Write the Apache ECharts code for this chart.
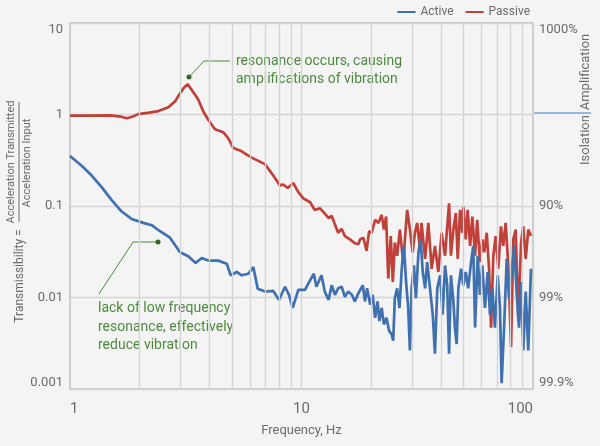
<!DOCTYPE html>
<html>
<head>
<meta charset="utf-8">
<script src="https://cdn.jsdelivr.net/npm/echarts@6/dist/echarts.min.js"></script>
<style>
html,body{margin:0;padding:0;background:#f4f4f4;}
#chart{width:600px;height:446px;}
</style>
</head>
<body>
<div id="chart"></div>
<script>
// frequencies in Hz, transmissibility as ratio
const passiveFreq = [1.0,1.2,1.5,1.65,1.76,1.87,1.97,2.2,2.41,2.66,2.85,2.94,3.1,3.22,3.41,3.58,3.77,3.96,4.23,4.59,4.83,5.08,5.42,6.09,6.95,7.55,8.07,8.34,8.72,9.22,9.69,10.18,10.9,11.4,12.0,12.4,13.1,13.5,13.95,14.4,14.9,15.4,16.2,17.0,17.6,
  17.9,18.5,19.1,19.6,20.1,20.8,21.5,22.2,22.7,23.2,23.7,24.3,24.8,25.3,25.9,26.6,27.5,28.6,29.4,30.2,30.9,31.6,32.5,33.0,34.2,35.3,36.5,37.7,39.0,40.3,41.7,
  42.4,43.4,44.2,45.3,46.4,47.3,48.4,49.5,50.0,51.2,52.2,53.5,54.7,56.2,57.4,59.0,60.4,61.6,63.1,64.6,65.9,67.4,69.0,70.8,72.7,74.4,76.2,78.2,80.4,82.2,84.2,86.4,88.8,90.8,93.0,95.4,98.0];
const passiveValue = [0.97,0.97,0.98,0.95,0.91,0.95,1.01,1.05,1.09,1.2,1.4,1.6,1.95,2.15,1.75,1.46,1.07,0.87,0.69,0.64,0.55,0.43,0.405,0.338,0.287,0.215,0.168,0.172,0.157,0.178,0.142,0.121,0.110,0.0906,0.0945,0.0869,0.0738,0.0781,0.0626,0.0510,0.0563,0.0469,0.0432,0.0392,0.0382,
  0.0432,0.045,0.0324,0.053,0.051,0.0708,0.0653,0.080,0.0553,0.0768,0.0161,0.0469,0.0148,0.0398,0.0286,0.0553,0.0243,0.0906,0.0553,0.0311,0.051,0.0653,0.0338,0.0653,0.0264,0.0653,0.0206,0.0366,0.019,0.051,0.0286,
  0.051,0.107,0.0286,0.0553,0.0835,0.0264,0.0906,0.051,0.0983,0.0432,0.0906,0.0366,0.0768,0.0286,0.0708,0.0243,0.0432,0.0311,0.051,0.0206,0.00469,0.0286,0.0469,0.0206,0.060,0.0366,0.0653,0.0224,0.00286,0.0432,0.0553,0.00553,0.0398,0.060,0.0264,0.0553,0.0469];

const activeFreq = [1.0,1.123,1.241,1.37,1.514,1.672,1.847,2.073,2.254,2.448,2.704,2.987,3.243,3.491,3.707,3.957,4.371,4.753,4.945,5.25,5.516,5.891,6.192,6.469,6.954,7.553,7.994,8.487,8.831,9.16,9.69,9.85,10.35,10.7,11.3,11.6,12.2,12.6,13.1,13.5,13.95,14.4,14.9,15.4,15.9,16.5,17.0,17.6,
  17.9,18.4,18.8,19.2,19.8,20.3,20.8,21.3,21.7,22.2,22.7,23.3,23.9,24.5,24.9,25.3,25.9,26.5,27.1,27.7,28.3,28.9,29.4,29.9,30.6,31.2,32.0,32.7,33.4,34.2,34.9,35.9,36.9,37.7,38.6,39.7,40.7,41.7,42.6,
  43.4,44.2,45.3,46.0,46.8,47.6,48.9,50.0,51.2,52.5,54.0,55.2,56.2,57.7,59.0,60.4,62.0,63.7,65.2,66.7,68.5,70.4,72.0,73.2,75.2,77.0,78.8,80.9,83.0,85.1,87.0,88.8,90.8,93.0,95.4,98.0];
const activeValue = [0.352,0.275,0.215,0.161,0.116,0.087,0.0721,0.0654,0.0617,0.053,0.0451,0.0312,0.0283,0.0239,0.027,0.0253,0.0253,0.0234,0.0175,0.019,0.0175,0.0182,0.0215,0.0125,0.0116,0.0118,0.00943,0.0131,0.0107,0.0077,0.0121,0.0126,0.0121,0.0142,0.0182,0.0131,0.0175,0.0116,0.00943,0.0136,0.0107,0.0126,0.0131,0.0102,0.0116,0.0107,0.00906,0.0111,
  0.0107,0.0136,0.00906,0.0126,0.00833,0.0107,0.006,0.00906,0.00553,0.00768,0.00508,0.006,0.00432,0.00397,0.00338,0.00983,0.0126,0.00768,0.0206,0.0366,0.0148,0.00768,0.00264,0.0126,0.0224,0.00983,0.0311,0.0432,0.019,0.0126,0.0243,0.0126,0.00651,0.00243,0.0126,0.0175,0.00651,0.0224,0.0136,
  0.00243,0.0175,0.00906,0.00469,0.0031,0.0126,0.0206,0.0136,0.019,0.0126,0.0243,0.0366,0.00469,0.0286,0.0107,0.0224,0.00768,0.019,0.00651,0.0126,0.00469,0.0175,0.00768,0.00116,0.00553,0.0264,0.00983,0.019,0.0366,0.0107,0.00469,0.0148,0.00264,0.0116,0.00264,0.0206];

const minorGridFreq = [2,3,4,5,6,7,8,9,20,30,40,50,60,70,80,90];
const xTickLabels = ['1','10','100'];
const leftTickLabels = ['0.001','0.01','0.1','1','10'];
const rightTickLabels = ['99.9%','99%','90%','','1000%'];

const FONT = 'Roboto, "Noto Sans", sans-serif';
const GRAY = '#6b6b6b';
const GREEN = '#4d8a3f';
const BLUE = '#3f70b0';
const RED = '#c1403a';

function decade(v){ return Math.round(Math.log10(v)); }

const chart = echarts.init(document.getElementById('chart'));
const option = {
  animation: false,
  backgroundColor: '#f4f4f4',
  textStyle: { fontFamily: FONT },
  legend: {
    data: ['Active', 'Passive'],
    right: 65,
    top: 1,
    icon: 'rect',
    itemWidth: 18,
    itemHeight: 2,
    itemGap: 12,
    textStyle: { fontSize: 12, color: GRAY, fontFamily: FONT }
  },
  grid: {
    show: true,
    left: 70,
    right: 67,
    top: 23,
    bottom: 57,
    borderColor: '#c9c9c9',
    borderWidth: 2
  },
  xAxis: {
    type: 'log',
    min: 1,
    max: 100,
    name: 'Frequency, Hz',
    nameLocation: 'middle',
    nameGap: 35,
    nameTextStyle: { fontSize: 13, color: GRAY, fontFamily: FONT },
    axisLine: { show: false },
    axisTick: { show: false },
    splitLine: { show: true, lineStyle: { color: '#d4d4d4', width: 1.3 } },
    axisLabel: {
      fontSize: 15, color: GRAY, margin: 13, fontFamily: FONT,
      alignMinLabel: 'left', alignMaxLabel: 'right',
      formatter: v => xTickLabels[decade(v)]
    }
  },
  yAxis: [{
    type: 'log',
    min: 0.001,
    max: 10,
    axisLine: { show: false },
    axisTick: { show: false },
    splitLine: { show: true, lineStyle: { color: '#d4d4d4', width: 1.3 } },
    axisLabel: {
      fontSize: 13, color: GRAY, margin: 7, fontFamily: FONT,
      verticalAlignMinLabel: 'bottom', verticalAlignMaxLabel: 'top',
      formatter: v => leftTickLabels[decade(v) + 3]
    }
  }, {
    type: 'log',
    min: 0.001,
    max: 10,
    position: 'right',
    axisLine: { show: false },
    axisTick: { show: false },
    splitLine: { show: false },
    axisLabel: {
      fontSize: 13, color: GRAY, margin: 6, fontFamily: FONT,
      verticalAlignMinLabel: 'bottom', verticalAlignMaxLabel: 'top',
      formatter: v => rightTickLabels[decade(v) + 3]
    }
  }],
  series: [{
    name: 'minor grid',
    type: 'line',
    data: [],
    z: 1,
    silent: true,
    markLine: {
      silent: true,
      animation: false,
      symbol: ['none', 'none'],
      label: { show: false },
      lineStyle: { color: '#d4d4d4', width: 1.3, type: 'solid' },
      emphasis: { disabled: true },
      data: minorGridFreq.map(f => ({ xAxis: f }))
    }
  }, {
    name: 'Passive',
    type: 'line',
    symbol: 'none',
    z: 3,
    color: RED,
    lineStyle: { width: 2.7, color: RED },
    data: passiveFreq.map((f, i) => [f, passiveValue[i]])
  }, {
    name: 'Active',
    type: 'line',
    symbol: 'none',
    z: 4,
    color: BLUE,
    lineStyle: { width: 2.7, color: BLUE },
    data: activeFreq.map((f, i) => [f, activeValue[i]])
  }],
  graphic: [
    // left axis title
    { type: 'text', x: 20, y: 276, rotation: Math.PI / 2,
      style: { text: 'Transmissibility =', font: '12px ' + FONT, fill: GRAY, align: 'center', verticalAlign: 'middle' } },
    { type: 'text', x: 11, y: 162, rotation: Math.PI / 2,
      style: { text: 'Acceleration Transmitted', font: '11px ' + FONT, fill: GRAY, align: 'center', verticalAlign: 'middle' } },
    { type: 'line', shape: { x1: 19, y1: 102, x2: 19, y2: 222 }, style: { stroke: GRAY, lineWidth: 1 } },
    { type: 'text', x: 27, y: 163, rotation: Math.PI / 2,
      style: { text: 'Acceleration Input', font: '11px ' + FONT, fill: GRAY, align: 'center', verticalAlign: 'middle' } },
    // right side isolation / amplification
    { type: 'line', shape: { x1: 534, y1: 113, x2: 591, y2: 113 }, style: { stroke: '#7aa2d4', lineWidth: 1.5 } },
    { type: 'text', x: 586, y: 72, rotation: Math.PI / 2,
      style: { text: 'Amplification', font: '13px ' + FONT, fill: GRAY, align: 'center', verticalAlign: 'middle' } },
    { type: 'text', x: 586, y: 140, rotation: Math.PI / 2,
      style: { text: 'Isolation', font: '13px ' + FONT, fill: GRAY, align: 'center', verticalAlign: 'middle' } },
    // resonance annotation
    { type: 'polyline', shape: { points: [[189, 77], [204, 61], [230, 61]] }, style: { stroke: GREEN, lineWidth: 1, fill: null } },
    { type: 'circle', shape: { cx: 189, cy: 77, r: 2.5 }, style: { fill: '#2f6b2a' } },
    { type: 'text', x: 236, y: 70,
      style: { text: 'resonance occurs, causing\namplifications of vibration', font: '14px ' + FONT, lineHeight: 18, fill: GREEN, align: 'left', verticalAlign: 'middle' } },
    // active annotation
    { type: 'polyline', shape: { points: [[158, 242], [133, 242], [99, 294]] }, style: { stroke: GREEN, lineWidth: 1, fill: null } },
    { type: 'circle', shape: { cx: 158, cy: 242, r: 2.5 }, style: { fill: '#2f6b2a' } },
    { type: 'text', x: 98, y: 327,
      style: { text: 'lack of low frequency\nresonance, effectively\nreduce vibration', font: '14px ' + FONT, lineHeight: 18.5, fill: GREEN, align: 'left', verticalAlign: 'middle' } }
  ]
};
chart.setOption(option);
</script>
</body>
</html>
